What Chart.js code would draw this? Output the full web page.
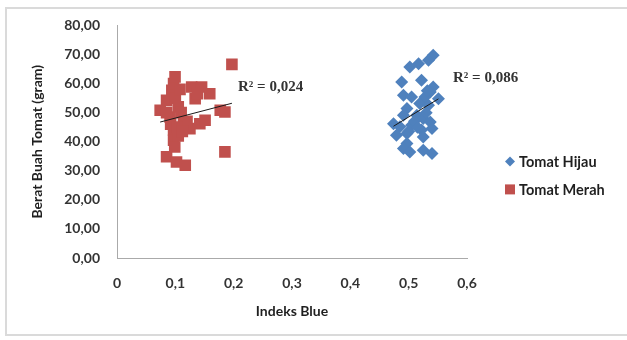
<!DOCTYPE html>
<html>
<head>
<meta charset="utf-8">
<script src="https://cdn.jsdelivr.net/npm/chart.js@4.4.0/dist/chart.umd.min.js"></script>
<style>
  html, body { margin: 0; padding: 0; background: #fff; }
  #wrap { position: relative; width: 627px; height: 340px; overflow: hidden; }
  #frame {
    position: absolute; left: 5px; top: 7px; width: 640px; height: 329px;
    border: 2px solid #dadada; box-sizing: border-box;
  }
  #chart { position: absolute; left: 0; top: 0; }
</style>
</head>
<body>
<div id="wrap">
  <div id="frame"></div>
  <canvas id="chart" width="627" height="340"></canvas>
</div>
<script>
// Tomat Hijau (green tomatoes): blue index vs fruit weight
const hijauX = [0.542, 0.534, 0.517, 0.502, 0.488, 0.522, 0.542, 0.537, 0.491, 0.505, 0.528,
  0.551, 0.519, 0.534, 0.497, 0.491, 0.514, 0.525, 0.537, 0.474, 0.485, 0.505, 0.540, 0.522,
  0.479, 0.497, 0.525, 0.497, 0.491, 0.502, 0.525, 0.540, 0.510, 0.530, 0.500, 0.532, 0.515];
const hijauY = [69.7, 68.0, 66.8, 65.7, 60.5, 61.1, 58.8, 57.1, 56.0, 55.4, 55.4,
  54.8, 53.1, 52.5, 51.4, 49.1, 49.1, 48.0, 46.8, 46.2, 45.1, 45.7, 44.5, 44.0,
  42.2, 42.8, 41.6, 39.4, 37.7, 36.5, 37.1, 35.9, 47.0, 50.0, 43.5, 57.5, 45.0];

// Tomat Merah (red tomatoes)
const merahX = [0.074, 0.085, 0.094, 0.097, 0.0995, 0.128, 0.145, 0.159, 0.134, 0.177, 0.185,
  0.091, 0.114, 0.142, 0.151, 0.097, 0.125, 0.097, 0.099, 0.085, 0.102, 0.117, 0.197, 0.185,
  0.105, 0.100, 0.110, 0.105, 0.120, 0.085, 0.108, 0.092, 0.103, 0.138, 0.112];
const merahY = [50.8, 54.2, 57.7, 60.0, 62.3, 58.8, 58.8, 56.5, 54.8, 50.8, 50.2,
  48.5, 46.8, 46.2, 47.4, 44.0, 44.5, 40.5, 38.2, 34.8, 33.0, 31.9, 66.6, 36.5,
  52.0, 55.0, 50.0, 42.0, 47.0, 50.0, 58.0, 46.0, 45.0, 56.5, 43.5];

const seriesNames = ["Tomat Hijau", "Tomat Merah"];
const r2Labels = ["R\u00B2 = 0,086", "R\u00B2 = 0,024"];

const xTicks = [0, 0.1, 0.2, 0.3, 0.4, 0.5, 0.6];
const yTicks = [0, 10, 20, 30, 40, 50, 60, 70, 80];

const BLUE = "#4f81bd";
const RED = "#c0504d";
const TEXT = "#333333";
const FONT = "Lato, 'Open Sans', sans-serif";

const toPoints = (xs, ys) => xs.map((x, i) => ({ x, y: ys[i] }));

// least squares line across the x range of the series
const trend = (xs, ys) => {
  const n = xs.length;
  const mx = xs.reduce((a, b) => a + b, 0) / n;
  const my = ys.reduce((a, b) => a + b, 0) / n;
  let sxy = 0, sxx = 0;
  for (let i = 0; i < n; i++) {
    sxy += (xs[i] - mx) * (ys[i] - my);
    sxx += (xs[i] - mx) ** 2;
  }
  const b = sxy / sxx;
  const a = my - b * mx;
  const lo = Math.min(...xs);
  const hi = Math.max(...xs);
  return [{ x: lo, y: a + b * lo }, { x: hi, y: a + b * hi }];
};

// where the R² texts sit, in axis units (left edge, middle)
const r2Anchors = [{ x: 0.576, y: 61.8 }, { x: 0.2075, y: 58.7 }];

const fmt = (v, d) => v.toFixed(d).replace(".", ",");

const extras = {
  id: "extras",
  afterDraw(chart) {
    const { ctx, scales } = chart;
    ctx.save();

    // R² labels
    ctx.font = "bold 15px 'Liberation Serif', serif";
    ctx.fillStyle = "#333";
    ctx.textBaseline = "middle";
    ctx.textAlign = "left";
    r2Labels.forEach((t, i) => {
      const a = r2Anchors[i];
      ctx.fillText(t, scales.x.getPixelForValue(a.x), scales.y.getPixelForValue(a.y));
    });

    // legend on the right
    const lx = chart.chartArea.right + 43;
    const rows = [chart.chartArea.top + 136, chart.chartArea.top + 164];
    ctx.font = "bold 14.5px " + FONT;
    seriesNames.forEach((name, i) => {
      const y = rows[i];
      ctx.fillStyle = i === 0 ? BLUE : RED;
      ctx.beginPath();
      if (i === 0) {
        ctx.moveTo(lx, y - 5);
        ctx.lineTo(lx + 5, y);
        ctx.lineTo(lx, y + 5);
        ctx.lineTo(lx - 5, y);
        ctx.closePath();
      } else {
        ctx.rect(lx - 5, y - 5, 10, 10);
      }
      ctx.fill();
      ctx.fillStyle = "#1f1f1f";
      ctx.fillText(name, lx + 9, y + 1);
    });
    ctx.restore();
  },
};

const config = {
  type: "scatter",
  data: {
    datasets: [
      {
        type: "line",
        data: trend(hijauX, hijauY),
        borderColor: "#1a1a1a",
        borderWidth: 1,
        pointRadius: 0,
        order: 0,
      },
      {
        type: "line",
        data: trend(merahX, merahY),
        borderColor: "#1a1a1a",
        borderWidth: 1,
        pointRadius: 0,
        order: 0,
      },
      {
        label: seriesNames[0],
        data: toPoints(hijauX, hijauY),
        pointStyle: "rectRot",
        pointRadius: 6.5,
        backgroundColor: BLUE,
        borderColor: BLUE,
        borderWidth: 0,
        order: 1,
      },
      {
        label: seriesNames[1],
        data: toPoints(merahX, merahY),
        pointStyle: "rect",
        pointRadius: 8.2,
        backgroundColor: RED,
        borderColor: RED,
        borderWidth: 0,
        order: 1,
      },
    ],
  },
  options: {
    responsive: false,
    animation: false,
    layout: { padding: { left: 0, top: 25, right: 160, bottom: 0 } },
    plugins: {
      legend: { display: false },
      tooltip: { enabled: false },
    },
    scales: {
      x: {
        type: "linear",
        min: 0,
        max: 0.6,
        afterBuildTicks: (s) => { s.ticks = xTicks.map((v) => ({ value: v })); },
        afterFit: (s) => { s.height = 82; },
        grid: { display: false, drawTicks: false },
        border: { display: true, color: "#aaaaaa", width: 1 },
        ticks: {
          padding: 17,
          color: TEXT,
          font: { family: FONT, size: 14, weight: "bold" },
          callback: (v) => (v === 0 ? "0" : fmt(v, 1)),
        },
        title: {
          display: true,
          text: "Indeks Blue",
          color: "#1f1f1f",
          font: { family: FONT, size: 14, weight: "bold" },
          padding: { top: 0, bottom: 20 },
        },
      },
      y: {
        min: 0,
        max: 80,
        afterBuildTicks: (s) => { s.ticks = yTicks.map((v) => ({ value: v })); },
        afterFit: (s) => { s.width = 117; },
        grid: { display: false, drawTicks: false },
        border: { display: true, color: "#aaaaaa", width: 1 },
        ticks: {
          padding: 17,
          color: TEXT,
          font: { family: FONT, size: 14, weight: "bold" },
          callback: (v) => fmt(v, 2),
        },
        title: {
          display: true,
          text: "Berat Buah Tomat (gram)",
          color: "#1f1f1f",
          font: { family: FONT, size: 14, weight: "bold" },
          padding: { top: 29, bottom: 0 },
        },
      },
    },
  },
  plugins: [extras],
};

const chart = new Chart(document.getElementById("chart"), config);
</script>
</body>
</html>
